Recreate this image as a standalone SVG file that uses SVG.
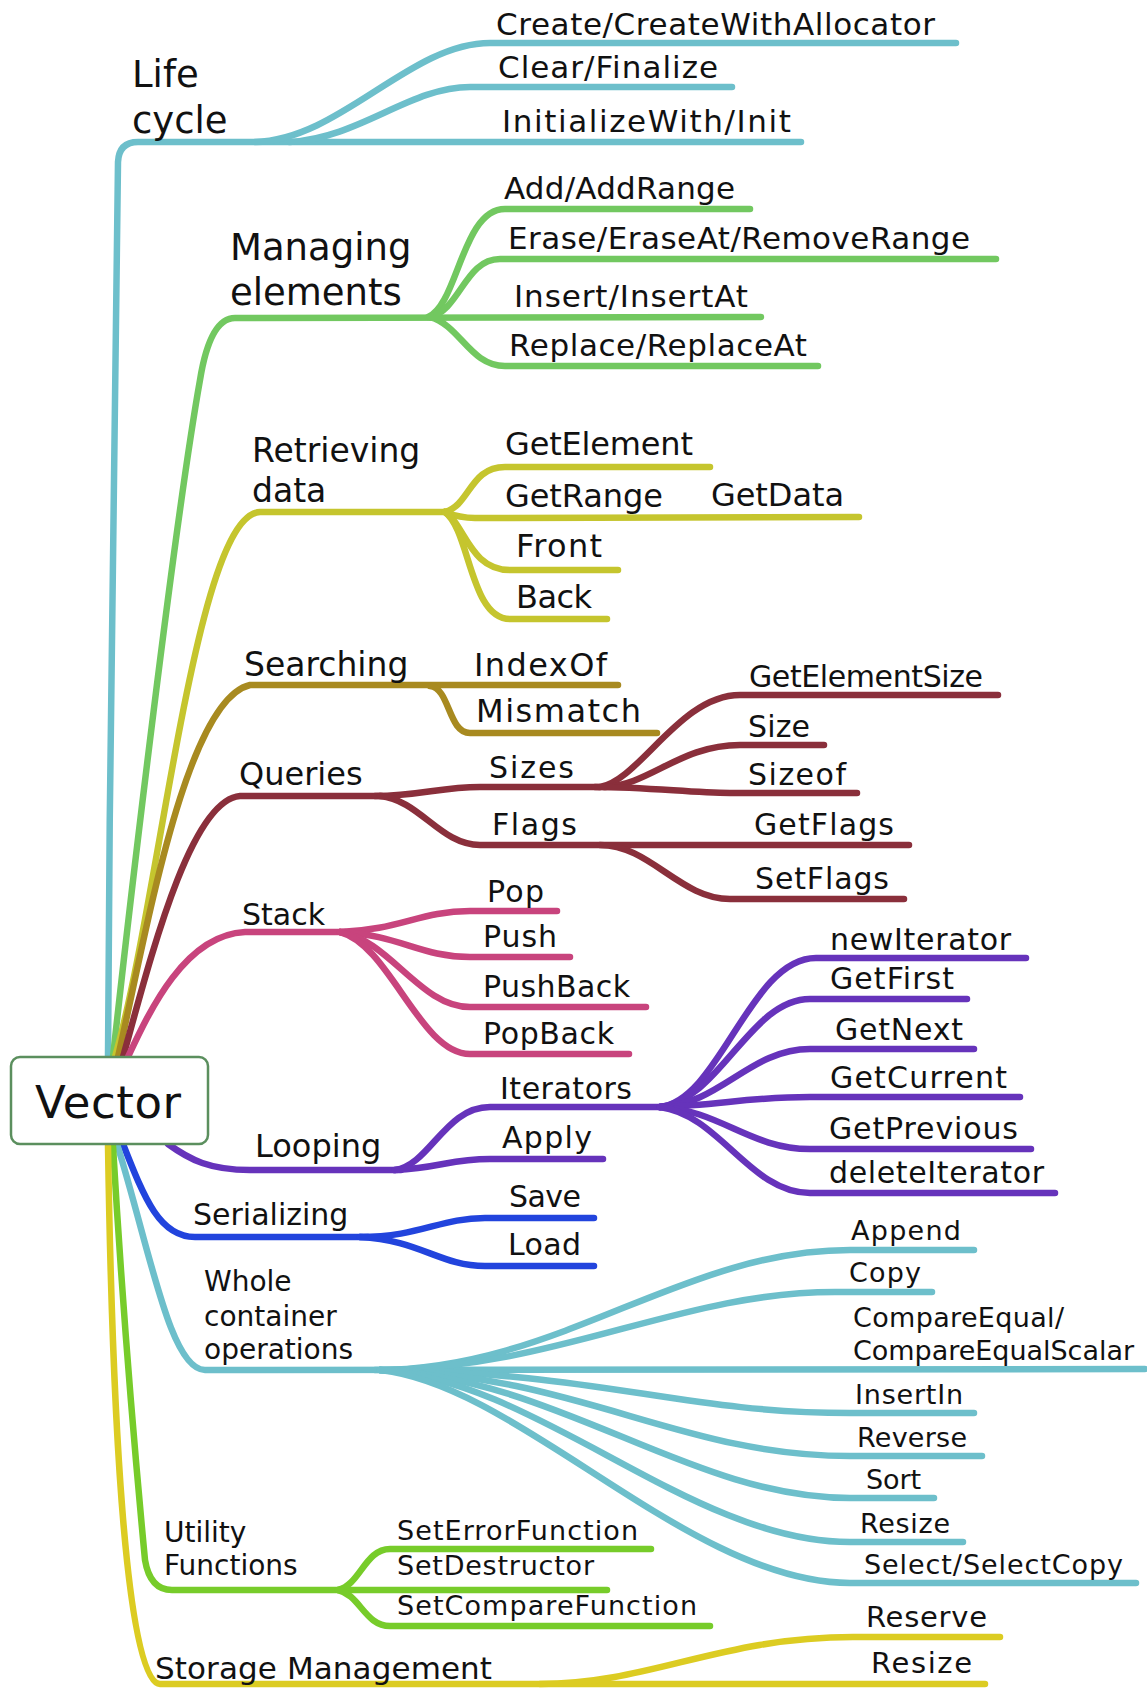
<svg xmlns="http://www.w3.org/2000/svg" width="1147" height="1688" viewBox="0 0 1147 1688">
<style>
text{font-family:"DejaVu Sans","Verdana",sans-serif;fill:#111}
.c{fill:none;stroke-linecap:round;stroke-linejoin:round;stroke-width:6.5}
.teal{stroke:#6dbfcb}.green{stroke:#72c860}.ygreen{stroke:#c5c52e}.olive{stroke:#a88a20}
.red{stroke:#8a2f3b}.pink{stroke:#c8447d}.purple{stroke:#6633bb}.blue{stroke:#2244dd}
.lime{stroke:#77cc2a}.yellow{stroke:#dccc22}
</style>
<g id="connectors">
<!-- Life cycle -->
<path class="c teal" d="M108,1057 C110,700 116,240 118,162 Q119,142 138,142 L801,142"/>
<path class="c teal" d="M255,142 C340,140 410,43 490,43 L956,43"/>
<path class="c teal" d="M290,142 C360,138 410,87 470,87 L732,87"/>
<!-- Managing -->
<path class="c green" d="M113,1057 C130,900 175,520 200,380 Q210,318 235,318 L761,317"/>
<path class="c green" d="M428,317 C458,305 462,209 505,209 L750,209"/>
<path class="c green" d="M430,317 C460,310 465,259 500,259 L996,259"/>
<path class="c green" d="M430,317 C460,325 470,366 505,366 L818,366"/>
<!-- Retrieving -->
<path class="c ygreen" d="M115,1057 C160,900 195,515 260,512 L449,512"/>
<path class="c ygreen" d="M445,512 C470,505 470,467 505,467 L710,467"/>
<path class="c ygreen" d="M445,512 Q460,518 475,518 L859,517"/>
<path class="c ygreen" d="M445,512 C465,525 470,570 510,570 L618,570"/>
<path class="c ygreen" d="M445,512 C470,530 470,619 510,619 L607,619"/>
<!-- Searching -->
<path class="c olive" d="M118,1057 C145,940 185,700 250,685 L618,685"/>
<path class="c olive" d="M430,686 C450,688 448,733 470,733 L657,733"/>
<!-- Queries -->
<path class="c red" d="M123,1057 C150,960 190,800 240,796 L382,796"/>
<path class="c red" d="M375,796 C420,796 440,787 480,787 L599,787"/>
<path class="c red" d="M600,787 C640,780 680,695 740,695 L998,695"/>
<path class="c red" d="M605,787 C650,785 680,745 740,745 L824,745"/>
<path class="c red" d="M595,787 C650,787 690,793 730,793 L857,793"/>
<path class="c red" d="M380,796 C420,800 440,845 480,845 L909,845"/>
<path class="c red" d="M600,845 C650,845 680,899 730,899 L904,899"/>
<!-- Stack -->
<path class="c pink" d="M128,1057 C150,1010 185,935 245,932 L346,932"/>
<path class="c pink" d="M340,932 C400,930 420,911 470,911 L557,911"/>
<path class="c pink" d="M340,932 C400,935 420,957 470,957 L570,957"/>
<path class="c pink" d="M340,932 C390,940 420,1007 470,1007 L646,1007"/>
<path class="c pink" d="M340,932 C390,945 420,1054 470,1054 L629,1054"/>
<!-- Looping -->
<path class="c purple" d="M168,1144 C190,1160 210,1170 250,1170 L401,1170"/>
<path class="c purple" d="M395,1170 C430,1165 445,1107 490,1107 L662,1107"/>
<path class="c purple" d="M395,1170 C440,1168 450,1159 490,1159 L603,1159"/>
<path class="c purple" d="M660,1107 C720,1100 750,958 816,958 L1026,958"/>
<path class="c purple" d="M660,1107 C720,1100 750,999 810,999 L967,999"/>
<path class="c purple" d="M660,1107 C720,1105 750,1049 810,1049 L974,1049"/>
<path class="c purple" d="M660,1107 C720,1105 750,1097 810,1097 L1020,1097"/>
<path class="c purple" d="M660,1107 C720,1110 750,1149 810,1149 L1031,1149"/>
<path class="c purple" d="M660,1107 C720,1115 750,1193 810,1193 L1055,1193"/>
<!-- Serializing -->
<path class="c blue" d="M123,1144 C145,1200 160,1237 195,1237 L368,1237"/>
<path class="c blue" d="M360,1237 C420,1237 440,1218 485,1218 L594,1218"/>
<path class="c blue" d="M360,1237 C420,1240 440,1266 485,1266 L594,1266"/>
<!-- Whole container -->
<path class="c teal" d="M117,1144 C150,1250 170,1370 205,1370 L1145,1369"/>
<path class="c teal" d="M375,1370 C560,1370 680,1250 850,1250 L974,1250"/>
<path class="c teal" d="M380,1370 C560,1368 680,1292 835,1292 L932,1292"/>
<path class="c teal" d="M380,1370 C600,1372 680,1413 850,1413 L974,1413"/>
<path class="c teal" d="M380,1370 C580,1375 680,1456 850,1456 L982,1456"/>
<path class="c teal" d="M380,1370 C560,1378 690,1498 850,1498 L934,1498"/>
<path class="c teal" d="M380,1370 C540,1380 690,1542 850,1542 L963,1542"/>
<path class="c teal" d="M380,1370 C520,1385 690,1583 850,1583 L1136,1583"/>
<!-- Utility -->
<path class="c lime" d="M113,1146 Q125,1350 145,1560 Q150,1590 172,1590 L607,1590"/>
<path class="c lime" d="M338,1590 C360,1585 365,1549 390,1549 L651,1549"/>
<path class="c lime" d="M338,1590 C360,1595 365,1626 390,1626 L710,1626"/>
<!-- Storage -->
<path class="c yellow" d="M108,1146 C112,1400 125,1684 160,1684 L985,1684"/>
<path class="c yellow" d="M540,1684 C650,1684 720,1637 853,1637 L1000,1637"/>
</g>
<g id="vector">
<rect x="11" y="1057" width="197" height="87" rx="9" fill="#fff" stroke="#5b8f5e" stroke-width="2.5"/>
<text x="35" y="1118" font-size="45" textLength="146">Vector</text>
</g>
<g id="lifecycle">
<text x="132" y="87" font-size="37">Life</text>
<text x="132" y="133" font-size="37">cycle</text>
<text x="496" y="35" font-size="31" textLength="439">Create/CreateWithAllocator</text>
<text x="498" y="78" font-size="31" textLength="220">Clear/Finalize</text>
<text x="502" y="132" font-size="31" textLength="289">InitializeWith/Init</text>
</g>
<g id="managing">
<text x="230" y="260" font-size="37">Managing</text>
<text x="230" y="305" font-size="37">elements</text>
<text x="504" y="199" font-size="31" textLength="231">Add/AddRange</text>
<text x="508" y="249" font-size="31" textLength="462">Erase/EraseAt/RemoveRange</text>
<text x="514" y="307" font-size="31" textLength="234">Insert/InsertAt</text>
<text x="509" y="356" font-size="31" textLength="298">Replace/ReplaceAt</text>
</g>
<g id="retrieving">
<text x="252" y="462" font-size="33">Retrieving</text>
<text x="252" y="502" font-size="33">data</text>
<text x="505" y="455" font-size="32" textLength="188">GetElement</text>
<text x="505" y="507" font-size="32" textLength="158">GetRange</text>
<text x="711" y="506" font-size="32" textLength="133">GetData</text>
<text x="516" y="557" font-size="32" textLength="86">Front</text>
<text x="516" y="608" font-size="32" textLength="76">Back</text>
</g>
<g id="searching">
<text x="244" y="676" font-size="33">Searching</text>
<text x="474" y="676" font-size="32" textLength="133">IndexOf</text>
<text x="476" y="722" font-size="32" textLength="165">Mismatch</text>
</g>
<g id="queries">
<text x="239" y="785" font-size="32">Queries</text>
<text x="489" y="778" font-size="30" textLength="85">Sizes</text>
<text x="749" y="687" font-size="30" textLength="234">GetElementSize</text>
<text x="748" y="737" font-size="30" textLength="62">Size</text>
<text x="748" y="785" font-size="30" textLength="98">Sizeof</text>
<text x="492" y="835" font-size="30" textLength="85">Flags</text>
<text x="754" y="835" font-size="30" textLength="140">GetFlags</text>
<text x="755" y="889" font-size="30" textLength="134">SetFlags</text>
</g>
<g id="stack">
<text x="242" y="925" font-size="30">Stack</text>
<text x="487" y="902" font-size="30" textLength="57">Pop</text>
<text x="483" y="947" font-size="30" textLength="74">Push</text>
<text x="483" y="997" font-size="30" textLength="147">PushBack</text>
<text x="483" y="1044" font-size="30" textLength="131">PopBack</text>
</g>
<g id="looping">
<text x="255" y="1157" font-size="32">Looping</text>
<text x="500" y="1099" font-size="30" textLength="132">Iterators</text>
<text x="502" y="1148" font-size="30" textLength="90">Apply</text>
<text x="830" y="950" font-size="30" textLength="181">newIterator</text>
<text x="830" y="989" font-size="30" textLength="124">GetFirst</text>
<text x="835" y="1040" font-size="30" textLength="128">GetNext</text>
<text x="830" y="1088" font-size="30" textLength="177">GetCurrent</text>
<text x="829" y="1139" font-size="30" textLength="189">GetPrevious</text>
<text x="829" y="1183" font-size="30" textLength="215">deleteIterator</text>
</g>
<g id="serializing">
<text x="193" y="1225" font-size="30">Serializing</text>
<text x="509" y="1207" font-size="30" textLength="72">Save</text>
<text x="508" y="1255" font-size="30" textLength="73">Load</text>
</g>
<g id="whole">
<text x="204" y="1291" font-size="28">Whole</text>
<text x="204" y="1326" font-size="28">container</text>
<text x="204" y="1359" font-size="28">operations</text>
<text x="851" y="1240" font-size="27" textLength="110">Append</text>
<text x="849" y="1282" font-size="27" textLength="72">Copy</text>
<text x="853" y="1327" font-size="27" textLength="211">CompareEqual/</text>
<text x="853" y="1360" font-size="27" textLength="281">CompareEqualScalar</text>
<text x="855" y="1404" font-size="27" textLength="108">InsertIn</text>
<text x="857" y="1447" font-size="27" textLength="110">Reverse</text>
<text x="866" y="1489" font-size="27" textLength="55">Sort</text>
<text x="860" y="1533" font-size="27" textLength="90">Resize</text>
<text x="864" y="1574" font-size="27" textLength="259">Select/SelectCopy</text>
</g>
<g id="utility">
<text x="164" y="1542" font-size="28">Utility</text>
<text x="164" y="1575" font-size="28">Functions</text>
<text x="397" y="1540" font-size="27" textLength="241">SetErrorFunction</text>
<text x="397" y="1575" font-size="27" textLength="197">SetDestructor</text>
<text x="397" y="1615" font-size="27" textLength="300">SetCompareFunction</text>
</g>
<g id="storage">
<text x="155" y="1679" font-size="31" textLength="337">Storage Management</text>
<text x="866" y="1627" font-size="29" textLength="121">Reserve</text>
<text x="871" y="1673" font-size="29" textLength="101">Resize</text>
</g>
</svg>
